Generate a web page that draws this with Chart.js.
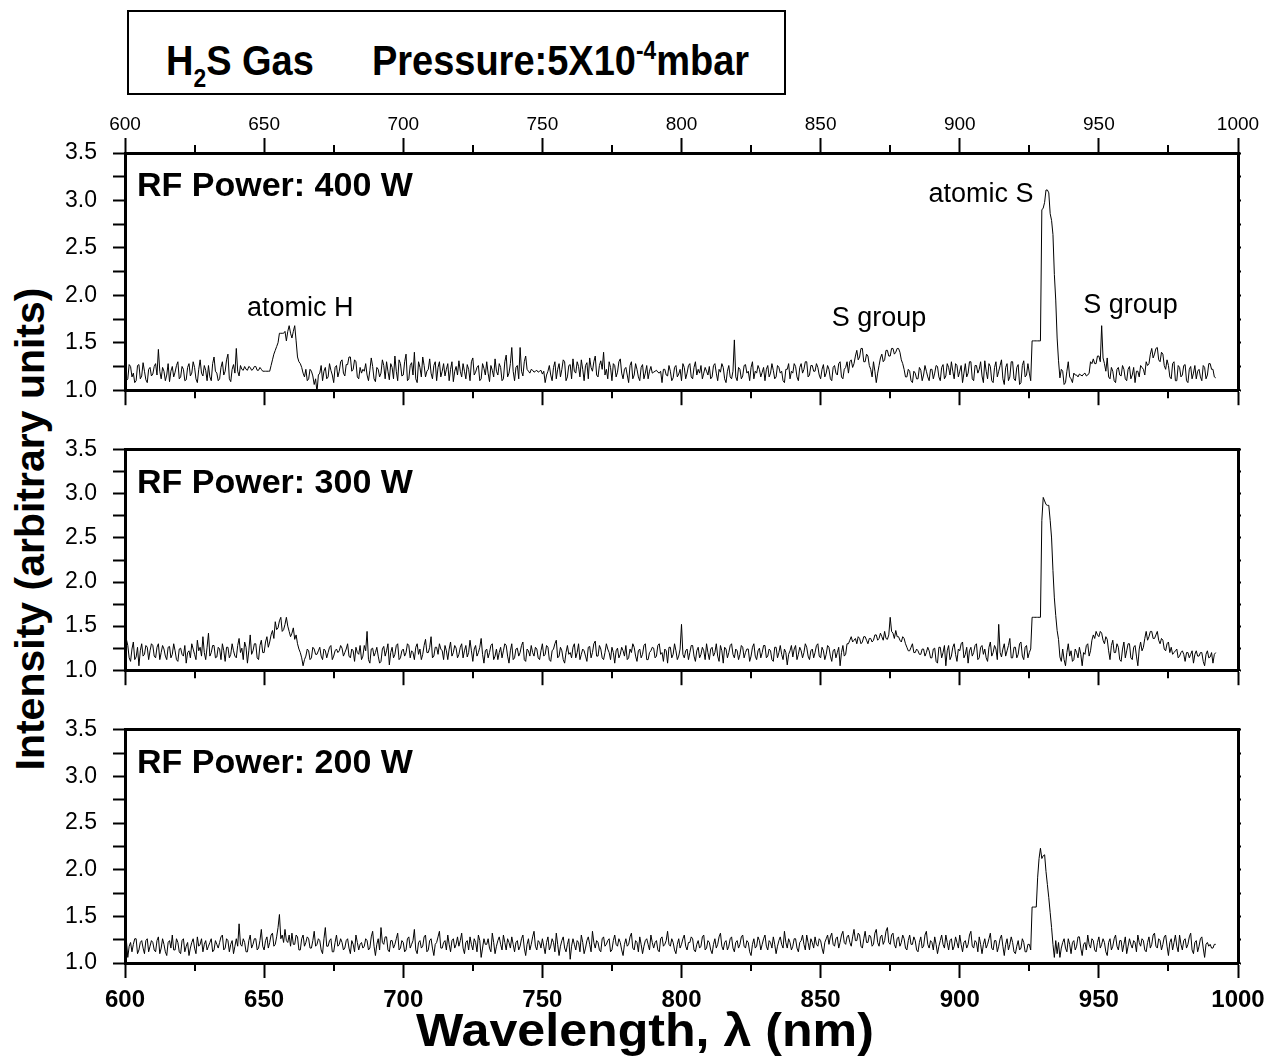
<!DOCTYPE html>
<html>
<head>
<meta charset="utf-8">
<script src="https://cdn.jsdelivr.net/npm/chart.js"></script>
<style>
  body { margin: 0; background: #fff; width: 1285px; height: 1057px; position: relative; overflow: hidden;
         font-family: "Liberation Sans", Arial, sans-serif; }
  canvas { position: absolute; left: 0; }
  #gasBox { position: absolute; left: 127px; top: 10px; width: 659px; height: 85px; box-sizing: border-box;
            border: 2px solid #000; font-weight: bold; font-size: 38px; line-height: 81px; padding-left: 37px; white-space: nowrap; }
  #gasBox .txt { display: inline-block; position: relative; top: 9px; transform: scaleY(1.1); transform-origin: left center; }
  #gasBox sub { font-size: 0.6em; vertical-align: -0.45em; line-height: 0; }
  #gasBox sup { font-size: 0.6em; vertical-align: 0.65em; line-height: 0; }
  #gasBox .gap { margin-left: 58px; }
  #yTitle { position: absolute; left: -230px; top: 504px; width: 520px; height: 50px; line-height: 50px;
            text-align: center; font-weight: bold; font-size: 41px; transform: rotate(-90deg); white-space: nowrap; }
  #xTitle { position: absolute; left: 295px; top: 1000px; width: 700px; height: 60px; line-height: 60px;
            text-align: center; font-weight: bold; font-size: 46px; white-space: nowrap; transform: scaleX(1.09); }
</style>
</head>
<body>
<div id="gasBox"><span class="txt">H<sub>2</sub>S Gas<span class="gap">Pressure:5X10<sup>-4</sup>mbar</span></span></div>
<div id="yTitle">Intensity (arbitrary units)</div>
<canvas id="panel400" width="1285" height="320" style="top:100px"></canvas>
<canvas id="panel300" width="1285" height="280" style="top:420px"></canvas>
<canvas id="panel200" width="1285" height="357" style="top:700px"></canvas>
<div id="xTitle">Wavelength, &lambda; (nm)</div>
<script>
// spectra sampled every 0.5 nm from 600 to 992 nm (20 readings per row = 10 nm)
const startNm = 600;
const stepNm = 0.5;

const power400 = [
  1.22,1.10,1.12,1.27,1.25,1.14,1.18,1.08,1.10,1.26,1.27,1.12,1.15,1.29,1.20,1.11,1.08,1.22,1.24,1.15,
  1.17,1.25,1.28,1.16,1.43,1.20,1.12,1.24,1.20,1.10,1.16,1.28,1.09,1.20,1.25,1.14,1.19,1.26,1.30,1.12,
  1.14,1.25,1.22,1.10,1.11,1.24,1.28,1.15,1.18,1.30,1.24,1.12,1.08,1.22,1.32,1.18,1.15,1.26,1.21,1.10,
  1.26,1.14,1.10,1.28,1.35,1.20,1.18,1.10,1.12,1.24,1.30,1.16,1.20,1.32,1.38,1.12,1.09,1.22,1.27,1.18,
  1.44,1.20,1.15,1.26,1.22,1.21,1.25,1.22,1.21,1.25,1.24,1.21,1.22,1.25,1.25,1.21,1.21,1.24,1.22,1.20,
  1.20,1.20,1.20,1.20,1.20,1.26,1.32,1.38,1.42,1.46,1.50,1.60,1.60,1.60,1.60,1.62,1.52,1.62,1.68,1.60,
  1.55,1.62,1.68,1.52,1.35,1.30,1.28,1.24,1.18,1.14,1.22,1.10,1.12,1.22,1.20,1.15,1.06,1.12,0.98,1.16,
  1.18,1.26,1.10,1.20,1.24,1.12,1.14,1.28,1.21,1.16,1.08,1.24,1.26,1.14,1.20,1.30,1.32,1.18,1.15,1.27,
  1.27,1.35,1.35,1.20,1.22,1.32,1.30,1.14,1.12,1.24,1.18,1.22,1.20,1.28,1.16,1.10,1.21,1.34,1.25,1.12,
  1.09,1.24,1.22,1.14,1.18,1.32,1.26,1.12,1.30,1.20,1.11,1.28,1.24,1.12,1.36,1.20,1.10,1.32,1.28,1.15,
  1.16,1.30,1.38,1.10,1.12,1.26,1.29,1.16,1.40,1.12,1.08,1.30,1.24,1.14,1.35,1.26,1.14,1.20,1.22,1.33,
  1.18,1.12,1.26,1.30,1.10,1.24,1.30,1.14,1.20,1.28,1.15,1.22,1.28,1.10,1.22,1.30,1.09,1.20,1.25,1.16,
  1.31,1.20,1.14,1.28,1.20,1.12,1.27,1.22,1.10,1.30,1.34,1.16,1.19,1.24,1.26,1.10,1.12,1.28,1.23,1.16,
  1.30,1.18,1.09,1.26,1.21,1.14,1.33,1.20,1.16,1.28,1.24,1.10,1.12,1.30,1.37,1.14,1.18,1.28,1.45,1.20,
  1.10,1.24,1.26,1.12,1.45,1.20,1.15,1.30,1.36,1.22,1.20,1.18,1.22,1.21,1.19,1.20,1.21,1.19,1.20,1.21,
  1.17,1.20,1.08,1.16,1.20,1.26,1.16,1.10,1.24,1.30,1.12,1.22,1.28,1.14,1.22,1.32,1.30,1.10,1.14,1.26,
  1.27,1.12,1.33,1.20,1.18,1.30,1.25,1.14,1.32,1.22,1.10,1.26,1.29,1.12,1.34,1.24,1.20,1.30,1.36,1.16,
  1.14,1.26,1.31,1.22,1.40,1.16,1.22,1.12,1.30,1.24,1.10,1.28,1.26,1.14,1.19,1.30,1.33,1.18,1.12,1.22,
  1.24,1.16,1.08,1.26,1.30,1.12,1.16,1.28,1.22,1.14,1.10,1.24,1.27,1.12,1.18,1.26,1.12,1.20,1.25,1.18,
  1.19,1.20,1.21,1.19,1.18,1.20,1.08,1.22,1.22,1.16,1.15,1.26,1.20,1.10,1.13,1.24,1.26,1.14,1.17,1.22,
  1.10,1.28,1.24,1.12,1.18,1.26,1.28,1.14,1.12,1.24,1.30,1.16,1.22,1.18,1.26,1.12,1.18,1.24,1.20,1.16,
  1.25,1.12,1.14,1.26,1.28,1.18,1.10,1.22,1.19,1.28,1.24,1.12,1.08,1.20,1.26,1.14,1.12,1.20,1.53,1.14,
  1.10,1.24,1.22,1.12,1.15,1.26,1.27,1.18,1.20,1.10,1.24,1.30,1.12,1.20,1.18,1.26,1.22,1.14,1.19,1.24,
  1.10,1.22,1.26,1.14,1.18,1.28,1.21,1.12,1.14,1.26,1.24,1.18,1.20,1.10,1.08,1.22,1.22,1.28,1.12,1.20,
  1.18,1.28,1.25,1.14,1.10,1.24,1.28,1.18,1.22,1.30,1.30,1.14,1.16,1.26,1.26,1.20,1.20,1.28,1.24,1.16,
  1.12,1.22,1.27,1.14,1.18,1.26,1.22,1.12,1.10,1.24,1.26,1.18,1.16,1.28,1.30,1.14,1.12,1.22,1.24,1.30,
  1.18,1.30,1.32,1.24,1.28,1.36,1.42,1.32,1.35,1.44,1.44,1.30,1.30,1.38,1.36,1.26,1.22,1.14,1.30,1.20,
  1.08,1.18,1.26,1.34,1.38,1.30,1.32,1.42,1.42,1.36,1.36,1.44,1.44,1.38,1.40,1.44,1.44,1.40,1.32,1.28,
  1.22,1.14,1.14,1.22,1.20,1.10,1.08,1.20,1.18,1.12,1.12,1.24,1.21,1.10,1.16,1.26,1.20,1.14,1.10,1.22,
  1.22,1.12,1.18,1.26,1.25,1.14,1.10,1.24,1.27,1.12,1.15,1.28,1.24,1.16,1.30,1.20,1.12,1.28,1.26,1.14,
  1.20,1.26,1.08,1.18,1.28,1.14,1.18,1.30,1.30,1.12,1.10,1.26,1.26,1.18,1.22,1.30,1.15,1.08,1.31,1.20,
  1.12,1.28,1.25,1.10,1.08,1.24,1.30,1.14,1.20,1.26,1.32,1.12,1.06,1.24,1.28,1.10,1.14,1.30,1.30,1.12,
  1.10,1.24,1.27,1.06,1.08,1.26,1.31,1.14,1.16,1.28,1.18,1.10,1.52,1.52,1.52,1.52,1.52,1.52,1.52,2.90,
  2.92,2.98,3.11,3.11,3.08,2.86,2.79,2.64,2.22,1.95,1.55,1.31,1.13,1.22,1.20,1.06,1.08,1.20,1.30,1.14,
  1.12,1.08,1.18,1.16,1.16,1.14,1.17,1.16,1.15,1.17,1.18,1.15,1.16,1.18,1.30,1.28,1.33,1.28,1.28,1.36,
  1.36,1.30,1.68,1.34,1.28,1.20,1.34,1.14,1.12,1.24,1.20,1.10,1.08,1.22,1.24,1.16,1.15,1.26,1.22,1.12,
  1.10,1.22,1.25,1.12,1.16,1.24,1.08,1.20,1.20,1.14,1.26,1.24,1.22,1.16,1.30,1.26,1.28,1.38,1.44,1.34,
  1.38,1.44,1.45,1.32,1.30,1.40,1.38,1.26,1.22,1.32,1.26,1.14,1.12,1.28,1.30,1.10,1.10,1.26,1.24,1.14,
  1.16,1.26,1.27,1.10,1.08,1.22,1.25,1.12,1.18,1.26,1.12,1.20,1.22,1.14,1.10,1.26,1.24,1.12,1.16,1.28,
  1.28,1.22,1.22,1.14,1.13
];

const power300 = [
  1.20,1.35,1.28,1.14,1.10,1.24,1.32,1.12,1.15,1.26,1.05,1.22,1.30,1.16,1.18,1.28,1.26,1.12,1.22,1.30,
  1.28,1.16,1.14,1.26,1.30,1.12,1.20,1.28,1.24,1.16,1.12,1.26,1.27,1.14,1.18,1.30,1.22,1.12,1.10,1.24,
  1.25,1.18,1.16,1.28,1.08,1.20,1.22,1.14,1.30,1.24,1.18,1.12,1.34,1.22,1.26,1.16,1.38,1.20,1.12,1.26,
  1.42,1.16,1.20,1.28,1.28,1.14,1.15,1.26,1.24,1.12,1.30,1.22,1.10,1.26,1.26,1.14,1.18,1.30,1.22,1.16,
  1.14,1.28,1.36,1.20,1.25,1.12,1.32,1.26,1.08,1.22,1.40,1.18,1.22,1.30,1.30,1.14,1.12,1.28,1.34,1.20,
  1.20,1.32,1.38,1.26,1.32,1.40,1.45,1.36,1.55,1.46,1.48,1.56,1.60,1.44,1.46,1.52,1.60,1.50,1.44,1.38,
  1.42,1.48,1.35,1.40,1.30,1.24,1.20,1.14,1.05,1.12,1.16,1.24,1.22,1.12,1.14,1.26,1.24,1.18,1.18,1.22,
  1.26,1.16,1.12,1.24,1.22,1.14,1.20,1.26,1.28,1.12,1.16,1.22,1.24,1.20,1.22,1.28,1.25,1.16,1.20,1.24,
  1.30,1.16,1.14,1.24,1.22,1.10,1.26,1.20,1.18,1.28,1.12,1.16,1.28,1.22,1.44,1.12,1.08,1.24,1.25,1.16,
  1.20,1.26,1.16,1.08,1.10,1.24,1.27,1.16,1.22,1.30,1.06,1.20,1.26,1.14,1.18,1.28,1.30,1.12,1.14,1.22,
  1.24,1.16,1.20,1.30,1.28,1.14,1.22,1.20,1.12,1.26,1.30,1.18,1.24,1.12,1.18,1.28,1.35,1.20,1.20,1.26,
  1.38,1.14,1.16,1.26,1.26,1.18,1.30,1.24,1.22,1.12,1.28,1.22,1.12,1.24,1.32,1.16,1.20,1.28,1.25,1.14,
  1.18,1.26,1.30,1.14,1.22,1.28,1.15,1.20,1.34,1.22,1.10,1.24,1.28,1.16,1.20,1.26,1.36,1.18,1.08,1.22,
  1.24,1.14,1.20,1.28,1.30,1.12,1.16,1.24,1.12,1.20,1.26,1.14,1.22,1.30,1.28,1.16,1.08,1.22,1.30,1.12,
  1.14,1.24,1.25,1.16,1.20,1.28,1.32,1.12,1.10,1.24,1.22,1.16,1.28,1.20,1.16,1.26,1.24,1.14,1.12,1.22,
  1.30,1.16,1.18,1.28,1.26,1.12,1.10,1.22,1.24,1.30,1.34,1.14,1.16,1.26,1.22,1.12,1.08,1.20,1.28,1.18,
  1.20,1.14,1.26,1.30,1.14,1.20,1.30,1.12,1.18,1.24,1.22,1.16,1.10,1.26,1.27,1.14,1.20,1.30,1.33,1.16,
  1.16,1.28,1.24,1.14,1.12,1.20,1.30,1.24,1.20,1.12,1.26,1.20,1.08,1.22,1.25,1.14,1.18,1.26,1.22,1.16,
  1.28,1.12,1.14,1.24,1.20,1.30,1.26,1.16,1.10,1.22,1.24,1.14,1.18,1.28,1.30,1.12,1.12,1.20,1.22,1.26,
  1.25,1.14,1.16,1.28,1.30,1.18,1.20,1.10,1.24,1.22,1.08,1.26,1.26,1.14,1.18,1.30,1.22,1.12,1.16,1.24,
  1.52,1.18,1.14,1.22,1.24,1.12,1.20,1.28,1.28,1.16,1.10,1.22,1.26,1.14,1.18,1.26,1.22,1.12,1.30,1.20,
  1.12,1.24,1.26,1.16,1.20,1.30,1.16,1.10,1.28,1.22,1.08,1.26,1.24,1.14,1.20,1.28,1.30,1.18,1.14,1.24,
  1.22,1.12,1.18,1.28,1.26,1.14,1.20,1.24,1.24,1.10,1.16,1.26,1.30,1.16,1.12,1.22,1.25,1.14,1.20,1.28,
  1.28,1.14,1.16,1.24,1.22,1.12,1.10,1.26,1.26,1.14,1.20,1.28,1.18,1.12,1.24,1.20,1.06,1.18,1.22,1.28,
  1.15,1.24,1.28,1.12,1.18,1.26,1.22,1.14,1.20,1.30,1.26,1.16,1.12,1.22,1.24,1.14,1.20,1.28,1.30,1.16,
  1.14,1.26,1.22,1.12,1.18,1.28,1.26,1.16,1.10,1.22,1.24,1.14,1.20,1.26,1.05,1.20,1.28,1.16,1.18,1.30,
  1.30,1.34,1.38,1.32,1.34,1.36,1.30,1.38,1.36,1.30,1.32,1.38,1.38,1.34,1.30,1.36,1.36,1.32,1.34,1.40,
  1.40,1.34,1.36,1.42,1.38,1.34,1.44,1.36,1.35,1.40,1.60,1.44,1.42,1.36,1.45,1.38,1.38,1.34,1.32,1.38,
  1.36,1.30,1.26,1.22,1.22,1.26,1.30,1.20,1.20,1.24,1.22,1.18,1.18,1.24,1.24,1.16,1.20,1.26,1.22,1.14,
  1.14,1.24,1.25,1.10,1.08,1.26,1.26,1.14,1.20,1.28,1.05,1.22,1.28,1.12,1.16,1.26,1.30,1.18,1.10,1.24,
  1.22,1.30,1.32,1.14,1.18,1.26,1.08,1.22,1.26,1.16,1.20,1.28,1.30,1.12,1.14,1.26,1.28,1.18,1.24,1.14,
  1.10,1.26,1.32,1.16,1.20,1.28,1.24,1.12,1.52,1.20,1.15,1.24,1.30,1.16,1.22,1.28,1.36,1.14,1.14,1.26,
  1.26,1.14,1.18,1.30,1.32,1.16,1.12,1.26,1.28,1.14,1.20,1.24,1.60,1.60,1.60,1.60,1.60,1.60,1.60,2.70,
  2.96,2.92,2.88,2.87,2.87,2.70,2.50,2.13,1.82,1.62,1.45,1.35,1.15,1.10,1.24,1.12,1.05,1.20,1.30,1.16,
  1.22,1.10,1.12,1.24,1.20,1.14,1.26,1.18,1.05,1.20,1.18,1.28,1.30,1.16,1.22,1.34,1.40,1.36,1.44,1.40,
  1.38,1.44,1.42,1.34,1.30,1.38,1.35,1.22,1.12,1.28,1.34,1.20,1.20,1.30,1.26,1.12,1.10,1.24,1.32,1.14,
  1.22,1.30,1.30,1.14,1.12,1.26,1.28,1.16,1.05,1.24,1.32,1.22,1.26,1.36,1.44,1.34,1.38,1.44,1.44,1.36,
  1.36,1.40,1.44,1.34,1.30,1.36,1.34,1.24,1.22,1.30,1.32,1.20,1.26,1.18,1.20,1.22,1.24,1.14,1.16,1.20,
  1.22,1.18,1.10,1.20,1.20,1.14,1.18,1.22,1.08,1.18,1.22,1.16,1.16,1.20,1.20,1.10,1.05,1.18,1.22,1.14,
  1.15,1.20,1.08,1.18,1.20
];

const power200 = [
  1.20,1.24,1.06,1.18,1.22,1.12,1.20,1.26,1.26,1.10,1.14,1.22,1.24,1.16,1.10,1.24,1.26,1.12,1.18,1.24,
  1.22,1.14,1.12,1.24,1.28,1.10,1.16,1.26,1.20,1.12,1.08,1.22,1.24,1.16,1.30,1.14,1.14,1.26,1.22,1.12,
  1.10,1.24,1.26,1.12,1.18,1.22,1.08,1.16,1.22,1.26,1.16,1.10,1.28,1.18,1.20,1.26,1.12,1.20,1.24,1.14,
  1.18,1.22,1.26,1.12,1.14,1.24,1.20,1.16,1.22,1.28,1.30,1.14,1.16,1.26,1.24,1.12,1.20,1.24,1.10,1.18,
  1.26,1.18,1.42,1.20,1.18,1.26,1.22,1.12,1.12,1.24,1.30,1.16,1.20,1.26,1.26,1.14,1.16,1.24,1.36,1.18,
  1.14,1.24,1.28,1.16,1.22,1.30,1.32,1.18,1.20,1.28,1.38,1.52,1.26,1.30,1.22,1.36,1.24,1.22,1.30,1.18,
  1.32,1.20,1.20,1.30,1.28,1.14,1.14,1.26,1.30,1.18,1.22,1.28,1.26,1.16,1.16,1.24,1.34,1.18,1.20,1.26,
  1.24,1.14,1.10,1.26,1.38,1.18,1.18,1.24,1.26,1.12,1.12,1.22,1.30,1.18,1.20,1.26,1.22,1.14,1.16,1.24,
  1.26,1.16,1.10,1.24,1.20,1.12,1.30,1.22,1.14,1.20,1.22,1.16,1.18,1.26,1.24,1.14,1.16,1.28,1.34,1.18,
  1.08,1.20,1.26,1.14,1.38,1.22,1.20,1.28,1.28,1.14,1.12,1.24,1.24,1.16,1.20,1.26,1.32,1.14,1.16,1.24,
  1.22,1.12,1.14,1.26,1.28,1.16,1.20,1.24,1.36,1.14,1.10,1.22,1.24,1.16,1.18,1.28,1.30,1.12,1.14,1.24,
  1.26,1.16,1.08,1.20,1.22,1.28,1.34,1.16,1.16,1.22,1.24,1.14,1.30,1.20,1.12,1.24,1.26,1.16,1.20,1.28,
  1.18,1.24,1.32,1.16,1.10,1.22,1.24,1.14,1.28,1.20,1.14,1.26,1.22,1.12,1.30,1.24,1.06,1.16,1.26,1.20,
  1.20,1.26,1.16,1.12,1.32,1.22,1.10,1.18,1.24,1.28,1.20,1.14,1.30,1.22,1.14,1.26,1.22,1.16,1.28,1.20,
  1.12,1.22,1.24,1.14,1.18,1.26,1.30,1.16,1.08,1.20,1.26,1.14,1.20,1.28,1.34,1.18,1.14,1.24,1.22,1.16,
  1.26,1.18,1.10,1.22,1.28,1.14,1.18,1.26,1.22,1.12,1.32,1.20,1.08,1.18,1.24,1.28,1.16,1.12,1.20,1.26,
  1.04,1.18,1.26,1.20,1.14,1.24,1.22,1.12,1.30,1.22,1.10,1.16,1.24,1.28,1.20,1.12,1.34,1.22,1.16,1.24,
  1.22,1.14,1.12,1.26,1.28,1.18,1.20,1.24,1.26,1.12,1.14,1.24,1.30,1.20,1.18,1.26,1.22,1.14,1.08,1.20,
  1.26,1.18,1.20,1.28,1.32,1.16,1.14,1.24,1.22,1.12,1.28,1.20,1.10,1.18,1.24,1.26,1.20,1.14,1.30,1.22,
  1.16,1.22,1.24,1.14,1.12,1.26,1.28,1.18,1.20,1.24,1.34,1.20,1.18,1.26,1.22,1.14,1.10,1.20,1.26,1.16,
  1.20,1.26,1.30,1.18,1.14,1.22,1.22,1.28,1.26,1.14,1.12,1.20,1.24,1.16,1.18,1.28,1.30,1.14,1.16,1.24,
  1.22,1.14,1.10,1.20,1.26,1.16,1.20,1.28,1.32,1.18,1.14,1.22,1.24,1.14,1.18,1.26,1.28,1.16,1.12,1.22,
  1.24,1.16,1.20,1.28,1.30,1.18,1.16,1.24,1.22,1.12,1.08,1.20,1.26,1.16,1.18,1.28,1.24,1.14,1.20,1.26,
  1.30,1.18,1.14,1.24,1.22,1.16,1.28,1.20,1.10,1.18,1.24,1.28,1.20,1.16,1.34,1.22,1.16,1.26,1.22,1.14,
  1.18,1.26,1.26,1.16,1.12,1.22,1.24,1.30,1.20,1.14,1.30,1.22,1.14,1.26,1.22,1.16,1.28,1.20,1.18,1.26,
  1.24,1.16,1.10,1.22,1.26,1.30,1.20,1.28,1.32,1.20,1.18,1.26,1.28,1.16,1.22,1.30,1.34,1.22,1.20,1.28,
  1.30,1.22,1.18,1.28,1.36,1.24,1.24,1.32,1.30,1.18,1.16,1.26,1.34,1.22,1.22,1.30,1.28,1.18,1.20,1.32,
  1.36,1.22,1.18,1.28,1.30,1.20,1.24,1.34,1.38,1.22,1.20,1.30,1.32,1.20,1.16,1.26,1.28,1.18,1.22,1.30,
  1.26,1.16,1.14,1.24,1.30,1.20,1.20,1.28,1.24,1.14,1.12,1.22,1.28,1.16,1.18,1.30,1.34,1.20,1.16,1.24,
  1.22,1.14,1.28,1.20,1.10,1.18,1.24,1.30,1.20,1.16,1.30,1.22,1.14,1.24,1.26,1.14,1.18,1.28,1.22,1.16,
  1.30,1.20,1.12,1.22,1.24,1.16,1.20,1.30,1.34,1.18,1.16,1.24,1.22,1.12,1.28,1.20,1.10,1.20,1.26,1.16,
  1.20,1.26,1.32,1.16,1.14,1.24,1.24,1.12,1.18,1.26,1.30,1.18,1.08,1.20,1.26,1.14,1.20,1.28,1.22,1.12,
  1.10,1.18,1.24,1.14,1.16,1.26,1.22,1.12,1.12,1.20,1.20,1.14,1.60,1.60,1.60,1.60,1.92,2.12,2.23,2.12,
  2.15,2.16,1.98,1.84,1.70,1.54,1.38,1.20,1.06,1.24,1.10,1.22,1.06,1.16,1.22,1.26,1.16,1.12,1.26,1.20,
  1.10,1.22,1.24,1.14,1.18,1.28,1.28,1.16,1.08,1.20,1.22,1.14,1.30,1.20,1.16,1.26,1.24,1.14,1.12,1.22,
  1.28,1.16,1.20,1.26,1.22,1.12,1.08,1.22,1.26,1.14,1.18,1.26,1.30,1.18,1.14,1.24,1.24,1.12,1.20,1.28,
  1.10,1.18,1.26,1.20,1.16,1.24,1.22,1.12,1.30,1.22,1.18,1.26,1.24,1.14,1.12,1.22,1.28,1.16,1.20,1.30,
  1.32,1.18,1.16,1.26,1.24,1.14,1.20,1.28,1.30,1.18,1.08,1.22,1.26,1.14,1.22,1.30,1.18,1.12,1.30,1.20,
  1.14,1.24,1.26,1.16,1.20,1.28,1.32,1.14,1.10,1.22,1.24,1.12,1.18,1.26,1.28,1.16,1.06,1.20,1.22,1.18,
  1.20,1.16,1.16,1.20,1.20
];

const xMin = 600, xMax = 1000, xMajor = 50, xMinor = 25;
const yMin = 1.0, yMax = 3.5, yMinor = 0.25;

const panelTitles = ['RF Power: 400 W', 'RF Power: 300 W', 'RF Power: 200 W'];
// line names written over the 400 W spectrum: [text, wavelength, intensity]
const lineNames = [
  ['atomic H', 663, 1.86],
  ['S group', 871, 1.76],
  ['atomic S', 907.6, 3.06],
  ['S group', 961.4, 1.89]
];

Chart.defaults.font.family = '"Liberation Sans", Arial, sans-serif';
Chart.defaults.color = '#000';

function toPoints(values) {
  return values.map((v, i) => ({ x: startNm + i * stepNm, y: v }));
}

const isMajor = v => Math.abs(v % xMajor) < 1e-6;

// shorter marks at the 25 nm positions
const minorTicks = {
  id: 'minorTicks',
  afterDraw(chart, args, opts) {
    const ctx = chart.ctx;
    ctx.save();
    ctx.strokeStyle = '#000';
    ctx.lineWidth = 2;
    (opts.axes || []).forEach(id => {
      const s = chart.scales[id];
      const up = s.position === 'top';
      const edge = up ? s.bottom : s.top;
      s.ticks.forEach(t => {
        if (isMajor(t.value)) return;
        const px = Math.round(s.getPixelForValue(t.value));
        ctx.beginPath();
        ctx.moveTo(px, edge);
        ctx.lineTo(px, up ? edge - opts.len : edge + opts.len);
        ctx.stroke();
      });
    });
    ctx.restore();
  }
};

const panelText = {
  id: 'panelText',
  afterDatasetsDraw(chart, args, opts) {
    const ctx = chart.ctx;
    const area = chart.chartArea;
    ctx.save();
    ctx.fillStyle = '#000';
    ctx.textBaseline = 'middle';
    ctx.textAlign = 'left';
    ctx.font = 'bold 34px "Liberation Sans", Arial, sans-serif';
    ctx.fillText(opts.title, area.left + 12, area.top + 34);
    ctx.textAlign = 'center';
    ctx.font = '27px "Liberation Sans", Arial, sans-serif';
    (opts.notes || []).forEach(([text, nm, level]) => {
      ctx.fillText(text, chart.scales.x.getPixelForValue(nm), chart.scales.y.getPixelForValue(level));
    });
    ctx.restore();
  }
};

function makePanel(id, values, cfg) {
  const ctx = document.getElementById(id);
  const axisBorder = { display: true, width: 3, color: '#000' };
  return new Chart(ctx, {
    type: 'line',
    data: {
      datasets: [{
        data: toPoints(values),
        borderColor: '#000',
        borderWidth: 1,
        pointRadius: 0,
        tension: 0
      }]
    },
    options: {
      responsive: false,
      animation: false,
      events: [],
      layout: { padding: 0 },
      plugins: {
        legend: { display: false },
        tooltip: { enabled: false },
        minorTicks: { axes: cfg.minorAxes, len: 8 },
        panelText: { title: cfg.title, notes: cfg.notes }
      },
      scales: {
        x: {
          type: 'linear', position: 'bottom', min: xMin, max: xMax,
          afterFit: s => { s.height = cfg.bottomH; },
          border: axisBorder,
          grid: {
            drawOnChartArea: false, tickLength: 15, tickWidth: 2,
            tickColor: c => (c.tick && isMajor(c.tick.value)) ? '#000' : 'rgba(0,0,0,0)'
          },
          ticks: {
            display: cfg.bottomLabels, stepSize: xMinor, autoSkip: false, maxRotation: 0, padding: 8,
            font: { size: 24, weight: 'bold' },
            callback: v => isMajor(v) ? String(v) : ''
          }
        },
        xTop: {
          type: 'linear', position: 'top', min: xMin, max: xMax,
          afterFit: s => { s.height = cfg.topH; },
          border: axisBorder,
          grid: {
            drawOnChartArea: false, drawTicks: cfg.topLabels, tickLength: 15, tickWidth: 2,
            tickColor: c => (c.tick && isMajor(c.tick.value)) ? '#000' : 'rgba(0,0,0,0)'
          },
          ticks: {
            display: cfg.topLabels, stepSize: xMinor, autoSkip: false, maxRotation: 0, padding: 2,
            font: { size: 19 },
            callback: v => isMajor(v) ? String(v) : ''
          }
        },
        y: {
          position: 'left', min: yMin, max: yMax,
          afterFit: s => { s.width = 125; },
          border: axisBorder,
          grid: { drawOnChartArea: false, tickLength: 12, tickWidth: 2, tickColor: '#000' },
          ticks: {
            stepSize: yMinor, autoSkip: false, padding: 16, font: { size: 23 },
            callback: v => Math.abs(v * 2 - Math.round(v * 2)) < 1e-6 ? v.toFixed(1) : ''
          }
        },
        yRight: {
          position: 'right', min: yMin, max: yMax,
          afterFit: s => { s.width = 47; },
          border: axisBorder,
          grid: { drawOnChartArea: false, tickLength: 3, tickWidth: 2, tickColor: '#000' },
          ticks: { display: false, stepSize: yMinor }
        }
      }
    },
    plugins: [minorTicks, panelText]
  });
}

makePanel('panel400', power400, {
  title: panelTitles[0], notes: lineNames, topH: 53, bottomH: 19,
  topLabels: true, bottomLabels: false, minorAxes: ['xTop', 'x']
});
makePanel('panel300', power300, {
  title: panelTitles[1], notes: [], topH: 15, bottomH: 18,
  topLabels: false, bottomLabels: false, minorAxes: ['x']
});
makePanel('panel200', power200, {
  title: panelTitles[2], notes: [], topH: 16, bottomH: 94,
  topLabels: false, bottomLabels: true, minorAxes: ['x']
});
</script>
</body>
</html>
